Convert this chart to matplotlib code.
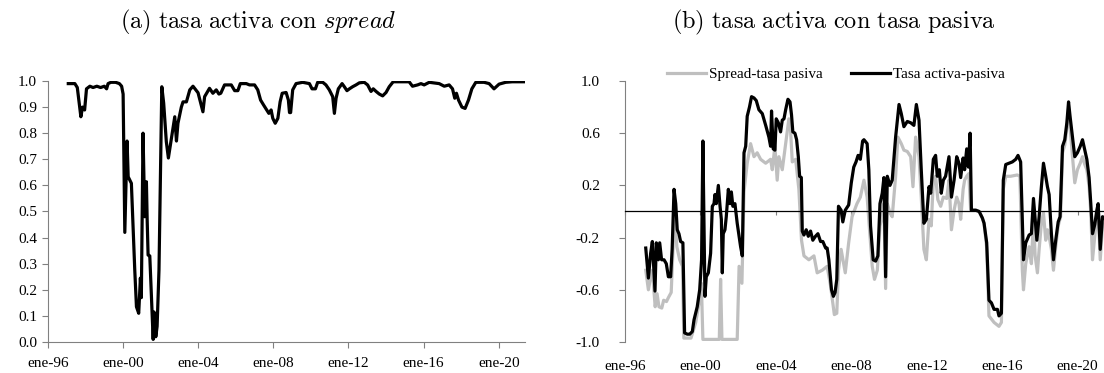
import numpy as np
import matplotlib
matplotlib.use("Agg")
import matplotlib.pyplot as plt

plt.rcParams['axes.unicode_minus'] = False
plt.rcParams['mathtext.fontset'] = 'cm'
plt.rcParams['font.family'] = ['Liberation Serif', 'DejaVu Serif']

# (a) correlacion tasa activa con spread  (anio decimal, valor)
spread_t = [1997.08, 1997.43, 1997.56, 1997.75, 1997.84, 1997.95, 1998.05, 1998.23, 1998.4, 1998.6,
            1998.8, 1999.0, 1999.12, 1999.2, 1999.35, 1999.6, 1999.8, 1999.92, 2000.0, 2000.09,
            2000.21, 2000.27, 2000.44, 2000.62, 2000.71, 2000.83, 2000.92, 2000.97, 2001.06, 2001.15,
            2001.24, 2001.28, 2001.33, 2001.42, 2001.6, 2001.65, 2001.74, 2001.81, 2001.91, 2002.06,
            2002.16, 2002.3, 2002.41, 2002.57, 2002.75, 2002.84, 2002.92, 2003.1, 2003.19, 2003.37,
            2003.55, 2003.72, 2003.99, 2004.25, 2004.34, 2004.6, 2004.78, 2004.96, 2005.1, 2005.2,
            2005.4, 2005.76, 2005.94, 2006.11, 2006.24, 2006.56, 2006.73, 2007.0, 2007.17, 2007.32,
            2007.48, 2007.65, 2007.76, 2007.88, 2007.97, 2008.1, 2008.24, 2008.36, 2008.47, 2008.68,
            2008.8, 2008.86, 2008.92, 2009.03, 2009.21, 2009.56, 2009.92, 2010.06, 2010.24, 2010.36,
            2010.63, 2010.8, 2010.98, 2011.16, 2011.25, 2011.34, 2011.46, 2011.66, 2011.78, 2011.92,
            2012.05, 2012.22, 2012.4, 2012.58, 2012.84, 2013.02, 2013.2, 2013.32, 2013.47, 2013.64,
            2013.82, 2014.0, 2014.17, 2014.38, 2015.23, 2015.41, 2015.68, 2015.86, 2016.03, 2016.3,
            2016.83, 2017.1, 2017.36, 2017.54, 2017.66, 2017.75, 2017.86, 2018.04, 2018.21, 2018.39,
            2018.57, 2018.78, 2019.22, 2019.49, 2019.75, 2020.02, 2020.37, 2020.72, 2021.35]
spread_v = [0.99, 0.99, 0.975, 0.863, 0.90, 0.889, 0.97, 0.98, 0.975, 0.98,
            0.975, 0.98, 0.97, 0.99, 0.995, 0.995, 0.99, 0.98, 0.95, 0.42,
            0.77, 0.633, 0.608, 0.276, 0.135, 0.11, 0.245, 0.17, 0.80, 0.48,
            0.614, 0.47, 0.333, 0.33, 0.01, 0.115, 0.02, 0.06, 0.276, 0.978,
            0.915, 0.768, 0.705, 0.78, 0.863, 0.77, 0.838, 0.90, 0.92, 0.92,
            0.966, 0.98, 0.955, 0.882, 0.94, 0.972, 0.953, 0.966, 0.95, 0.953,
            0.985, 0.985, 0.963, 0.963, 0.99, 0.99, 0.985, 0.985, 0.966, 0.927,
            0.908, 0.889, 0.876, 0.889, 0.857, 0.838, 0.857, 0.92, 0.953, 0.956,
            0.927, 0.879, 0.879, 0.966, 0.99, 0.995, 0.99, 0.97, 0.97, 0.995,
            0.995, 0.985, 0.966, 0.94, 0.876, 0.934, 0.97, 0.99, 0.978, 0.963,
            0.97, 0.978, 0.985, 0.993, 0.995, 0.985, 0.96, 0.97, 0.96, 0.95,
            0.943, 0.956, 0.978, 0.997, 0.997, 0.98, 0.985, 0.99, 0.985, 0.995,
            0.99, 0.98, 0.985, 0.97, 0.934, 0.953, 0.927, 0.90, 0.895, 0.927,
            0.97, 0.995, 0.995, 0.99, 0.97, 0.988, 0.995, 0.997, 0.997]

# (b) Tasa activa-pasiva
activa_t = [1997.1, 1997.24, 1997.36, 1997.45, 1997.54, 1997.59, 1997.66, 1997.77, 1997.84, 1997.94,
            1998.07, 1998.19, 1998.3, 1998.42, 1998.5, 1998.6, 1998.69, 1998.77, 1998.86, 1998.95,
            1999.07, 1999.16, 1999.3, 1999.43, 1999.57, 1999.66, 1999.83, 1999.96, 2000.06, 2000.13,
            2000.24, 2000.31, 2000.42, 2000.54, 2000.63, 2000.72, 2000.77, 2000.84, 2000.95, 2001.04,
            2001.11, 2001.16, 2001.21, 2001.3, 2001.37, 2001.48, 2001.57, 2001.64, 2001.72, 2001.83,
            2001.95, 2002.13, 2002.22, 2002.31, 2002.4, 2002.48, 2002.6, 2002.71, 2002.84, 2002.96,
            2003.1, 2003.28, 2003.46, 2003.63, 2003.72, 2003.77, 2003.86, 2003.95, 2004.02, 2004.13,
            2004.25, 2004.34, 2004.43, 2004.52, 2004.64, 2004.75, 2004.83, 2004.9, 2005.01, 2005.1,
            2005.19, 2005.26, 2005.35, 2005.4, 2005.49, 2005.61, 2005.72, 2005.84, 2005.96, 2006.1,
            2006.23, 2006.37, 2006.49, 2006.64, 2006.72, 2006.81, 2006.95, 2007.05, 2007.14, 2007.23,
            2007.32, 2007.46, 2007.55, 2007.68, 2007.86, 2008.0, 2008.13, 2008.25, 2008.36, 2008.48,
            2008.6, 2008.67, 2008.84, 2008.93, 2009.02, 2009.16, 2009.29, 2009.41, 2009.52, 2009.64,
            2009.73, 2009.82, 2009.91, 2010.05, 2010.17, 2010.35, 2010.53, 2010.65, 2010.79, 2010.97,
            2011.15, 2011.32, 2011.45, 2011.59, 2011.71, 2011.85, 2011.98, 2012.12, 2012.21, 2012.35,
            2012.47, 2012.56, 2012.67, 2012.77, 2012.88, 2013.0, 2013.18, 2013.31, 2013.45, 2013.59,
            2013.71, 2013.8, 2013.93, 2014.01, 2014.12, 2014.21, 2014.3, 2014.37, 2014.6, 2014.78,
            2014.95, 2015.04, 2015.18, 2015.3, 2015.43, 2015.57, 2015.75, 2015.83, 2015.96, 2016.06,
            2016.19, 2016.37, 2016.54, 2016.72, 2016.84, 2016.98, 2017.13, 2017.25, 2017.43, 2017.55,
            2017.66, 2017.75, 2017.84, 2017.96, 2018.08, 2018.19, 2018.31, 2018.4, 2018.49, 2018.61,
            2018.72, 2018.84, 2018.97, 2019.07, 2019.2, 2019.32, 2019.43, 2019.52, 2019.6, 2019.73,
            2019.85, 2019.99, 2020.14, 2020.26, 2020.38, 2020.49, 2020.61, 2020.7, 2020.79, 2020.91,
            2021.02, 2021.09, 2021.2, 2021.32, 2021.45]
activa_v = [-0.28, -0.51, -0.32, -0.23, -0.47, -0.61, -0.24, -0.37, -0.24, -0.37,
            -0.37, -0.40, -0.50, -0.50, -0.29, 0.17, 0.06, -0.14, -0.17, -0.23,
            -0.24, -0.93, -0.94, -0.94, -0.92, -0.83, -0.73, -0.60, -0.37, 0.54,
            -0.65, -0.50, -0.47, -0.32, 0.04, 0.06, 0.13, 0.06, 0.20, 0.04,
            -0.06, -0.47, -0.17, -0.14, -0.04, 0.17, 0.06, 0.15, 0.04, 0.06,
            -0.09, -0.27, -0.34, 0.45, 0.50, 0.73, 0.80, 0.88, 0.87, 0.85,
            0.78, 0.75, 0.66, 0.57, 0.50, 0.77, 0.48, 0.47, 0.71, 0.68,
            0.61, 0.70, 0.71, 0.78, 0.86, 0.84, 0.74, 0.61, 0.60, 0.55,
            0.42, 0.27, 0.26, -0.15, -0.18, -0.14, -0.19, -0.15, -0.22, -0.19,
            -0.17, -0.23, -0.23, -0.28, -0.28, -0.37, -0.60, -0.65, -0.62, -0.52,
            0.04, 0.01, -0.08, 0.01, 0.05, 0.22, 0.34, 0.38, 0.43, 0.40,
            0.54, 0.55, 0.52, 0.32, -0.11, -0.37, -0.38, -0.34, 0.06, 0.14,
            0.26, -0.50, 0.27, 0.20, 0.24, 0.57, 0.82, 0.75, 0.65, 0.69,
            0.68, 0.66, 0.82, 0.70, 0.32, -0.09, -0.06, 0.19, 0.14, 0.40,
            0.43, 0.27, 0.32, 0.14, 0.24, 0.27, 0.42, 0.11, 0.24, 0.42,
            0.37, 0.26, 0.41, 0.32, 0.48, 0.34, 0.60, 0.01, 0.01, 0.0,
            -0.05, -0.09, -0.24, -0.68, -0.70, -0.75, -0.75, -0.80, -0.78, 0.24,
            0.36, 0.37, 0.38, 0.40, 0.43, 0.38, -0.37, -0.24, -0.18, -0.17,
            0.10, -0.06, -0.22, -0.04, 0.19, 0.37, 0.27, 0.19, 0.13, -0.17,
            -0.37, -0.22, -0.08, -0.04, 0.50, 0.55, 0.68, 0.84, 0.73, 0.57,
            0.42, 0.45, 0.50, 0.55, 0.47, 0.40, 0.26, 0.06, -0.17, -0.10,
            0.01, 0.06, -0.29, -0.04, -0.05]

# (b) Spread-tasa pasiva
pasiva_t = [1997.1, 1997.24, 1997.36, 1997.45, 1997.6, 1997.7, 1997.8, 1997.95, 1998.05, 1998.2,
            1998.3, 1998.45, 1998.55, 1998.62, 1998.75, 1998.9, 1999.05, 1999.12, 1999.5, 1999.75,
            1999.95, 2000.05, 2000.13, 2001.0, 2001.07, 2001.14, 2001.95, 2002.05, 2002.2, 2002.31,
            2002.48, 2002.66, 2002.84, 2003.01, 2003.19, 2003.46, 2003.72, 2003.81, 2003.95, 2004.07,
            2004.16, 2004.34, 2004.52, 2004.69, 2004.78, 2004.87, 2005.05, 2005.22, 2005.36, 2005.49,
            2005.75, 2006.02, 2006.19, 2006.46, 2006.72, 2006.9, 2007.1, 2007.23, 2007.32, 2007.46,
            2007.68, 2007.86, 2008.04, 2008.3, 2008.48, 2008.67, 2008.84, 2008.98, 2009.11, 2009.23,
            2009.38, 2009.52, 2009.64, 2009.73, 2009.82, 2009.91, 2010.05, 2010.17, 2010.35, 2010.47,
            2010.65, 2010.79, 2010.97, 2011.15, 2011.27, 2011.41, 2011.59, 2011.71, 2011.85, 2011.98,
            2012.12, 2012.24, 2012.35, 2012.47, 2012.59, 2012.74, 2012.88, 2013.06, 2013.18, 2013.31,
            2013.45, 2013.59, 2013.71, 2013.8, 2013.93, 2014.01, 2014.12, 2014.23, 2014.33, 2014.6,
            2014.78, 2014.95, 2015.04, 2015.18, 2015.3, 2015.57, 2015.83, 2015.96, 2016.06, 2016.19,
            2016.45, 2016.8, 2016.94, 2017.07, 2017.13, 2017.25, 2017.43, 2017.55, 2017.66, 2017.75,
            2017.87, 2017.96, 2018.08, 2018.19, 2018.31, 2018.4, 2018.49, 2018.61, 2018.72, 2018.84,
            2018.97, 2019.1, 2019.2, 2019.32, 2019.43, 2019.52, 2019.6, 2019.73, 2019.85, 2019.99,
            2020.14, 2020.26, 2020.38, 2020.49, 2020.61, 2020.7, 2020.79, 2020.91, 2021.02, 2021.09,
            2021.2, 2021.32, 2021.45]
pasiva_v = [-0.45, -0.60, -0.50, -0.45, -0.73, -0.63, -0.73, -0.74, -0.68, -0.69,
            -0.66, -0.62, -0.27, 0.01, -0.27, -0.37, -0.42, -0.97, -0.97, -0.85,
            -0.68, -0.55, -0.98, -0.98, -0.52, -0.98, -0.98, -0.42, -0.55, 0.15,
            0.37, 0.52, 0.42, 0.45, 0.40, 0.37, 0.40, 0.32, 0.50, 0.24,
            0.42, 0.32, 0.52, 0.71, 0.62, 0.38, 0.40, 0.17, -0.22, -0.34,
            -0.37, -0.34, -0.47, -0.45, -0.42, -0.57, -0.79, -0.78, -0.45, -0.29,
            -0.47, -0.24, -0.04, 0.06, 0.11, 0.24, 0.11, -0.17, -0.42, -0.52,
            -0.45, -0.11, -0.04, 0.06, -0.59, 0.06, -0.01, -0.04, 0.27, 0.57,
            0.52, 0.47, 0.46, 0.42, 0.19, 0.57, 0.42, 0.11, -0.29, -0.37,
            -0.06, -0.11, 0.24, 0.27, 0.09, 0.04, 0.11, 0.10, 0.24, -0.14,
            0.01, 0.11, 0.06, -0.06, 0.17, 0.24, 0.27, 0.29, 0.01, 0.01,
            0.0, -0.05, -0.09, -0.28, -0.80, -0.85, -0.88, -0.85, 0.17, 0.27,
            0.27, 0.28, 0.27, -0.45, -0.60, -0.40, -0.27, -0.40, -0.06, -0.34,
            -0.47, -0.29, -0.09, -0.01, -0.22, -0.14, -0.19, -0.29, -0.45, -0.27,
            -0.11, -0.04, 0.45, 0.51, 0.64, 0.78, 0.65, 0.42, 0.22, 0.32,
            0.37, 0.42, 0.36, 0.32, 0.19, -0.01, -0.37, -0.19, -0.04, 0.01,
            -0.37, -0.11, -0.09]

tick_years = [1996, 2000, 2004, 2008, 2012, 2016, 2020]
tick_labels = ['ene-96', 'ene-00', 'ene-04', 'ene-08', 'ene-12', 'ene-16', 'ene-20']
xmin, xmax = 1996.0, 2021.4

axis_col = '#808080'
fs = 11

fig = plt.figure(figsize=(11.04, 3.73), dpi=100)

# ---- panel (a)
ax1 = fig.add_axes([48/1104, 1-342/373, 477/1104, 261/373])
ax1.plot(spread_t, spread_v, color='black', lw=2.3, solid_joinstyle='round')
ax1.set_xlim(xmin, xmax)
ax1.set_ylim(0, 1.0)
ax1.set_yticks(np.arange(0, 1.01, 0.1))
ax1.set_yticklabels(['%.1f' % v for v in np.arange(0, 1.01, 0.1)])
ax1.set_xticks(tick_years)
ax1.set_xticklabels(tick_labels)
for s in ['top', 'right']:
    ax1.spines[s].set_visible(False)
for s in ['left', 'bottom']:
    ax1.spines[s].set_color(axis_col)
    ax1.spines[s].set_linewidth(0.8)
ax1.tick_params(axis='both', colors=axis_col, labelcolor='black', labelsize=fs,
                direction='out', length=4, width=0.8)
ax1.tick_params(axis='y', pad=4)
ax1.tick_params(axis='x', pad=7)

# ---- panel (b)
ax2 = fig.add_axes([625/1104, 1-342/373, 479/1104, 261/373])
ax2.plot(pasiva_t, pasiva_v, color='#bfbfbf', lw=2.3, label='Spread-tasa pasiva',
         solid_joinstyle='round')
ax2.plot(activa_t, activa_v, color='black', lw=2.3, label='Tasa activa-pasiva',
         solid_joinstyle='round')
ax2.set_xlim(xmin, xmax)
ax2.set_ylim(-1.0, 1.0)
yt = [-1.0, -0.6, -0.2, 0.2, 0.6, 1.0]
ax2.set_yticks(yt)
ax2.set_yticklabels(['%.1f' % v for v in yt])
ax2.spines['top'].set_visible(False)
ax2.spines['right'].set_visible(False)
ax2.spines['left'].set_color(axis_col)
ax2.spines['left'].set_linewidth(0.8)
ax2.spines['bottom'].set_position(('data', 0))
ax2.spines['bottom'].set_color('black')
ax2.spines['bottom'].set_linewidth(0.9)
ax2.set_xticks(tick_years)
ax2.tick_params(axis='x', labelbottom=False, direction='out', length=3, width=0.8,
                colors=axis_col)
ax2.tick_params(axis='y', colors=axis_col, labelcolor='black', labelsize=fs,
                direction='out', length=4, width=0.8, pad=14)

sec = ax2.secondary_xaxis('bottom')
sec.set_xticks(tick_years)
sec.set_xticklabels(tick_labels)
sec.spines['bottom'].set_visible(False)
sec.tick_params(axis='x', length=0, labelsize=fs, pad=13)

ax2.legend(loc='center', bbox_to_anchor=(836/1104, 1-74/373), bbox_transform=fig.transFigure,
           ncol=2, frameon=False, fontsize=fs, handlelength=2.6, handletextpad=0.2,
           columnspacing=1.8)

# titulos
fig.text(258/1104, 1-22/373, r'$\mathrm{(a)\ tasa\ activa\ con}\ \mathit{spread}$',
         ha='center', va='center', fontsize=17.5)
fig.text(834/1104, 1-22/373, r'$\mathrm{(b)\ tasa\ activa\ con\ tasa\ pasiva}$',
         ha='center', va='center', fontsize=17.5)

fig.savefig('out.png', dpi=100)
